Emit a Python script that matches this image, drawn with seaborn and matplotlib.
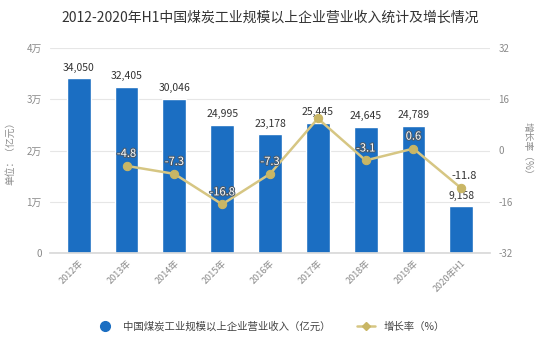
import numpy as np
import pandas as pd
import matplotlib
matplotlib.use("Agg")
import matplotlib.pyplot as plt
import matplotlib.patheffects as pe
from matplotlib.lines import Line2D
import seaborn as sns

years = ["2012年", "2013年", "2014年", "2015年", "2016年", "2017年", "2018年", "2019年", "2020年H1"]
revenue = [34050, 32405, 30046, 24995, 23178, 25445, 24645, 24789, 9158]
growth = [np.nan, -4.8, -7.3, -16.8, -7.3, 10.0, -3.1, 0.6, -11.8]
growth_labels = ["", "-4.8", "-7.3", "-16.8", "-7.3", "", "-3.1", "0.6", "-11.8"]
left_ticks = [0, 10000, 20000, 30000, 40000]
left_ticklabels = ["0", "1万", "2万", "3万", "4万"]
right_ticks = [-32, -16, 0, 16, 32]

sns.set_theme(style="white")
plt.rcParams['font.family'] = ['Noto Sans CJK SC', 'DejaVu Sans']
plt.rcParams['axes.unicode_minus'] = False

BLUE = "#1b6ec2"
KHAKI = "#d6c683"
KHAKI_DARK = "#c9b665"
GRAY = "#8a8a8a"

df = pd.DataFrame({"year": years, "revenue": revenue, "growth": growth})
df["pos"] = np.arange(len(years))

fig = plt.figure(figsize=(5.41, 3.44), dpi=100)
ax = fig.add_axes([50/541, (344-253)/344, 440/541, 205/344])
sns.barplot(data=df, x="year", y="revenue", color=BLUE, saturation=1, width=0.5, ax=ax)
ax.set_ylim(0, 40000)
ax.set_yticks(left_ticks)
ax.set_yticklabels(left_ticklabels, color=GRAY, fontsize=7)
ax.set_xlim(-0.6, len(years) - 0.4)
ax.set_xlabel("")
ax.set_ylabel("单位：（亿元）", color=GRAY, fontsize=7, labelpad=8)
ax.grid(axis="y", color="#e6e6e6", linewidth=0.8)
ax.set_axisbelow(True)
for s in ["top", "right", "left"]:
    ax.spines[s].set_visible(False)
ax.spines["bottom"].set_color("#d9d9d9")
ax.tick_params(axis="y", length=0, pad=6)
ax.tick_params(axis="x", length=0, pad=4)
ax.set_xticks(range(len(years)))
ax.set_xticklabels(years, rotation=45, ha="right", rotation_mode="anchor", color=GRAY, fontsize=6.5)

for i, v in enumerate(revenue):
    ax.annotate(f"{v:,}", (i, v), xytext=(0, 4), textcoords="offset points",
                ha="center", va="bottom", fontsize=7.5, color="#333333")

ax2 = ax.twinx()
sns.lineplot(data=df, x="pos", y="growth", color=KHAKI, linewidth=1.8, marker="o",
             markersize=6, markerfacecolor=KHAKI_DARK, markeredgecolor=KHAKI_DARK, ax=ax2)
ax2.set_ylim(-32, 32)
ax2.set_yticks(right_ticks)
ax2.set_yticklabels([str(t) for t in right_ticks], color=GRAY, fontsize=7)
ax2.set_ylabel("增长率（%）", color=GRAY, fontsize=7, rotation=-90, labelpad=14)
ax2.set_xlabel("")
ax2.tick_params(axis="y", length=0, pad=6)
for s in ["top", "right", "left", "bottom"]:
    ax2.spines[s].set_visible(False)
ax2.set_xlim(-0.6, len(years) - 0.4)

for i, (g, lab) in enumerate(zip(growth, growth_labels)):
    if not lab:
        continue
    on_bar = i < len(years) - 1
    if on_bar:
        t = ax2.annotate(lab, (i, g), xytext=(0, 5), textcoords="offset points",
                         ha="center", va="bottom", fontsize=8, color="white")
        t.set_path_effects([pe.withStroke(linewidth=1.5, foreground="#4a5a6a")])
    else:
        ax2.annotate(lab, (i, g), xytext=(2, 5), textcoords="offset points",
                     ha="center", va="bottom", fontsize=8, color="#333333")

fig.text(0.5, 0.948, "2012-2020年H1中国煤炭工业规模以上企业营业收入统计及增长情况",
         ha="center", va="center", fontsize=10, color="#333333")

handles = [
    Line2D([0], [0], marker="o", color="none", markerfacecolor=BLUE, markeredgecolor=BLUE, markersize=7),
    Line2D([0], [0], color=KHAKI, linewidth=1.8, marker="D", markersize=4,
           markerfacecolor=KHAKI_DARK, markeredgecolor=KHAKI_DARK),
]
fig.legend(handles, ["中国煤炭工业规模以上企业营业收入（亿元）", "增长率（%）"],
           loc="center", bbox_to_anchor=(0.5, 0.05), ncol=2, frameon=False,
           fontsize=7.5, labelcolor="#444444", handlelength=1.8, columnspacing=2.5)

fig.savefig("out.png", dpi=100)
